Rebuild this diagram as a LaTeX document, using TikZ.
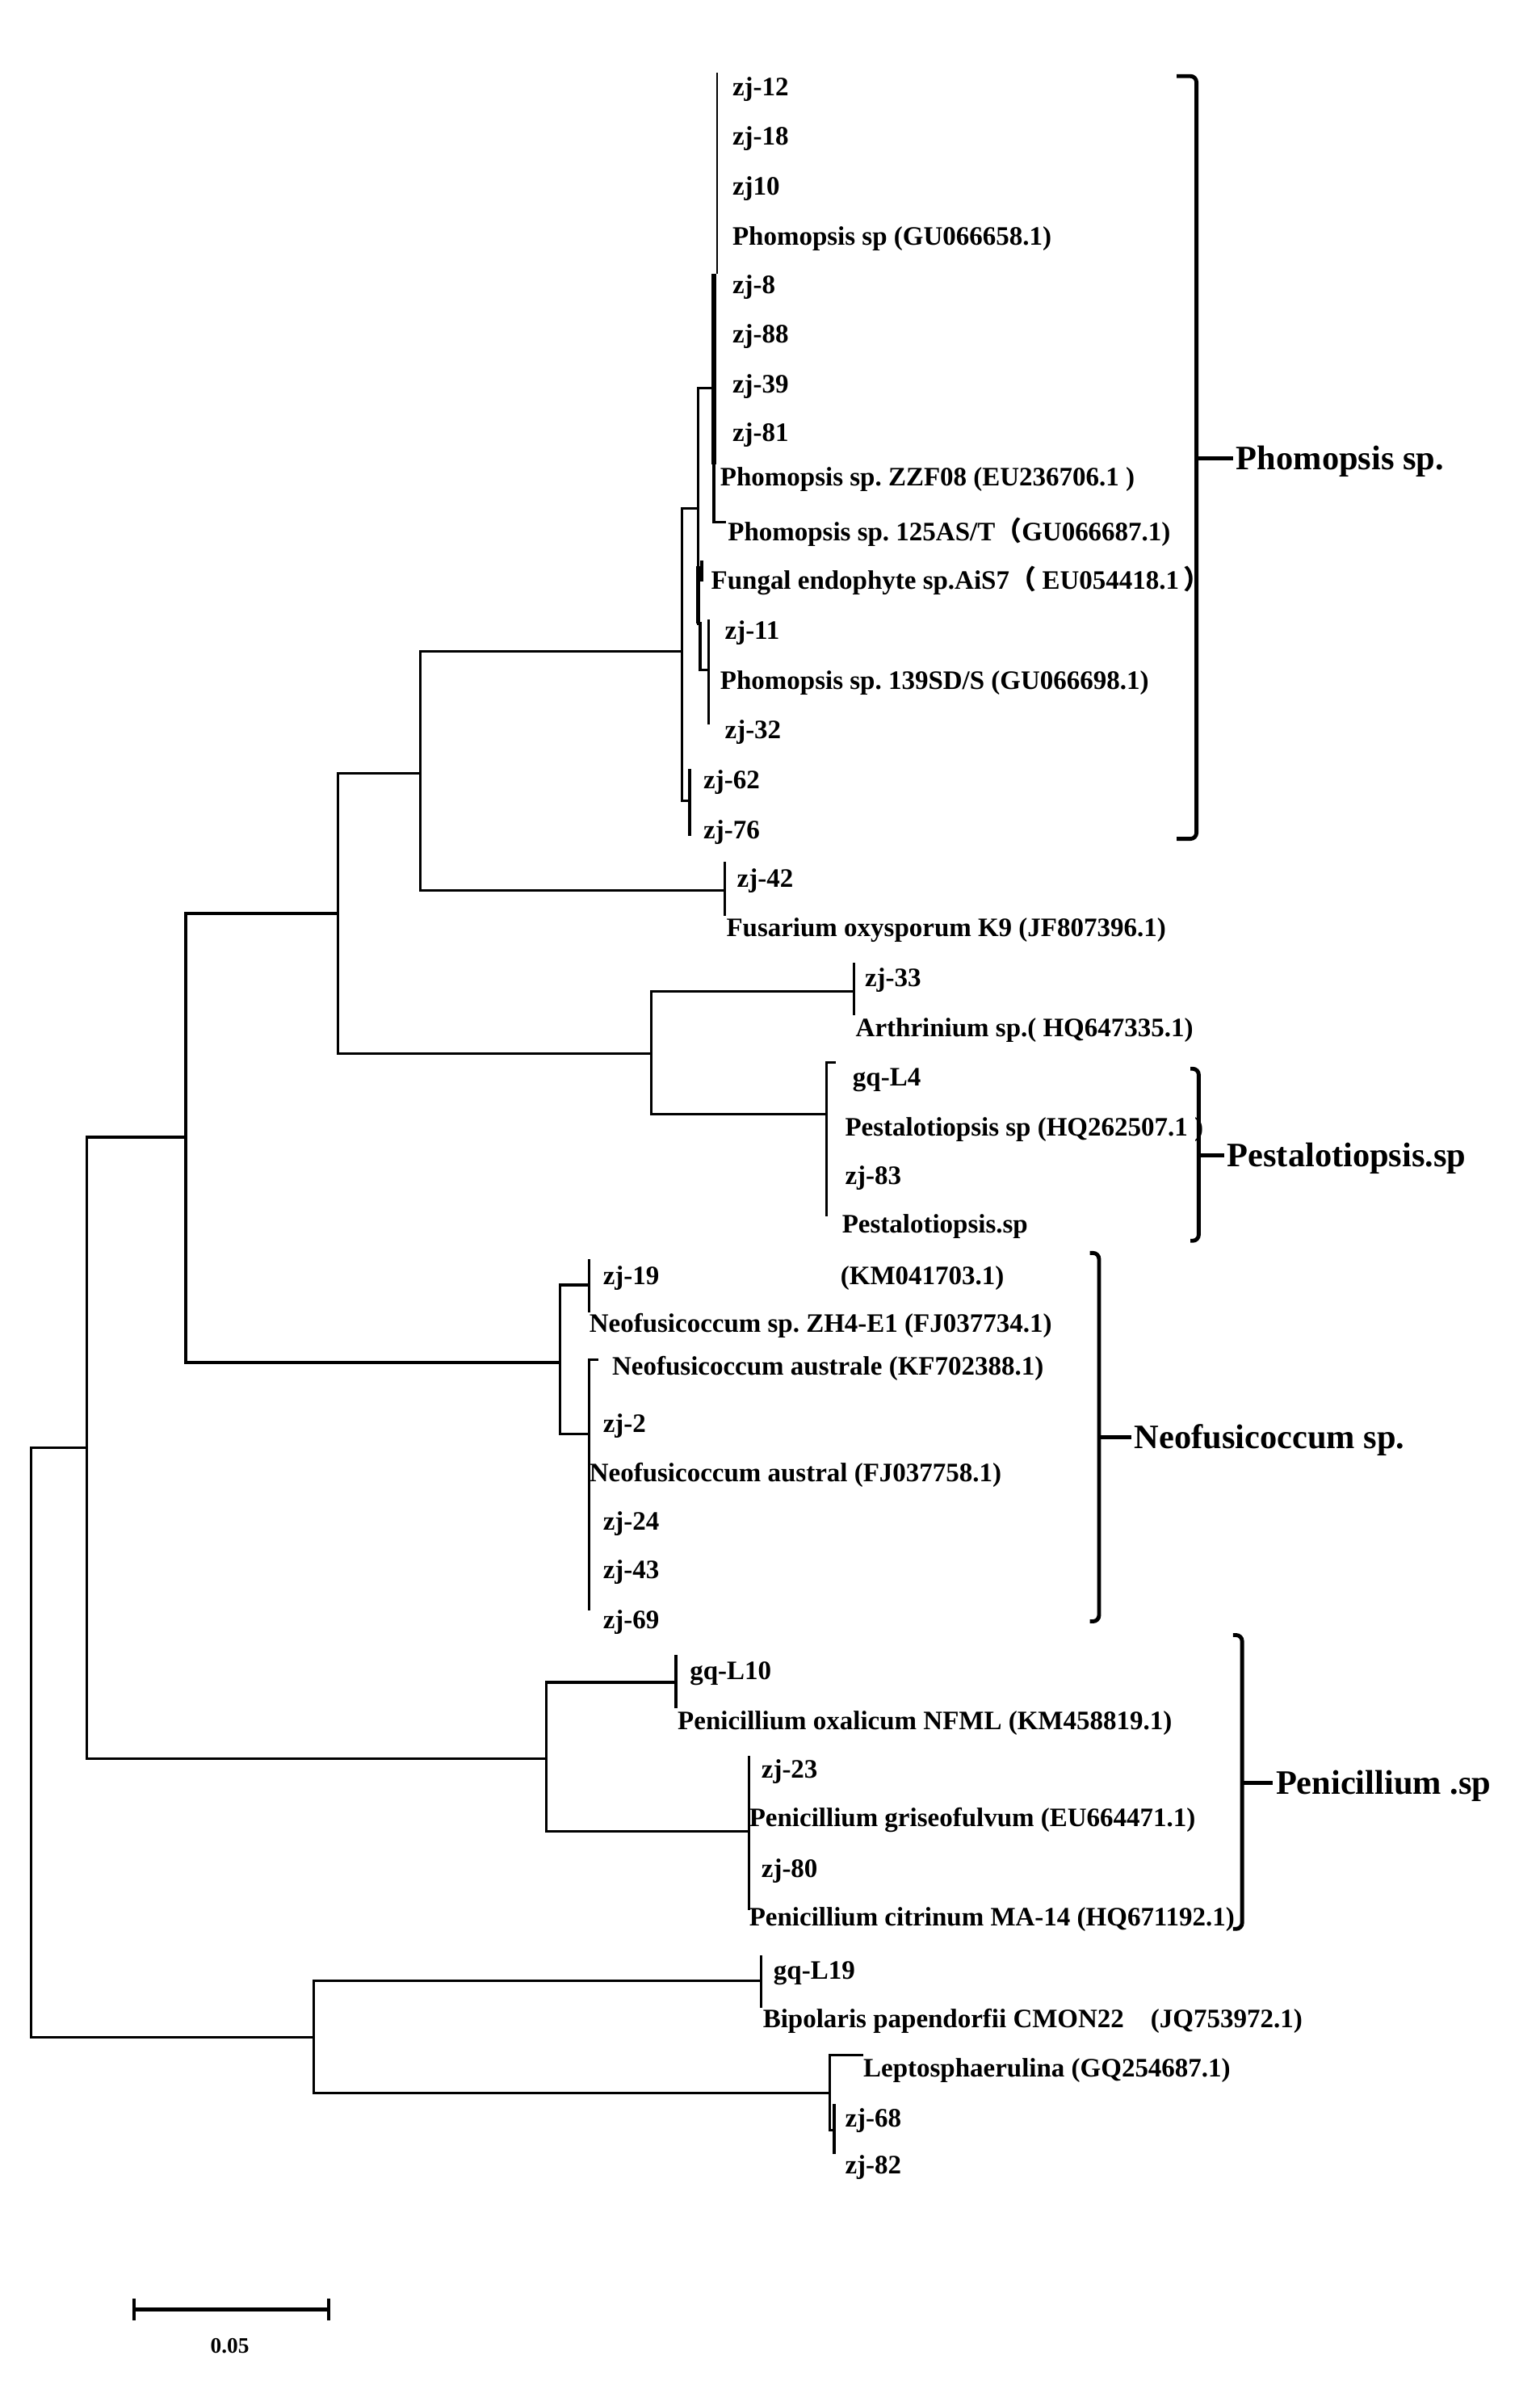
\documentclass[tikz,border=0pt]{standalone}
\usepackage{fontspec}
\setmainfont{Liberation Serif}
\newfontfamily\cjk{Noto Sans CJK SC}
\frenchspacing
\begin{document}
\begin{tikzpicture}[x=1pt,y=-1pt,
  tree/.style={line width=1.7pt, line cap=rect},
  thickbr/.style={line width=3.4pt},
  brk/.style={line width=2.6pt, rounded corners=4pt},
  leaf/.style={anchor=base west, inner sep=0pt, yshift=-6pt, font=\fontsize{17.5}{18}\selectfont\bfseries},
  grp/.style={anchor=base west, inner sep=0pt, yshift=-7.5pt, font=\fontsize{22.5}{24}\selectfont\bfseries},
  sbl/.style={inner sep=0pt, font=\fontsize{14.5}{15}\selectfont\bfseries}]
\useasboundingbox (0,0) rectangle (1011.2,1566.6);

% ---------- internal node connection points ----------
\coordinate (R)    at (20.5,1144.5);
\coordinate (N58)  at (57,951);
\coordinate (N206) at (206,1338);
\coordinate (N122) at (122,747);
\coordinate (NPen) at (359,1155);
\coordinate (N222) at (222,600);
\coordinate (NNeo) at (368,895);
\coordinate (N276) at (276,508);
\coordinate (N429) at (428,692);
\coordinate (NA)   at (448,428);
\coordinate (N42)  at (476,585);
\coordinate (NArt) at (561,651);
\coordinate (NPes) at (543,732);
\coordinate (NB)   at (458.5,334);
\coordinate (N62)  at (453,526);
\coordinate (NC)   at (469,255);
\coordinate (NE)   at (460,409.5);
\coordinate (NF)   at (465.5,440);
\coordinate (N19)  at (387,844);
\coordinate (NNb)  at (387,942);
\coordinate (NL10) at (444,1105);
\coordinate (N23)  at (492,1203);
\coordinate (NL19) at (500,1301);
\coordinate (NL)   at (545,1375);
\coordinate (NM)   at (548,1399);
\coordinate (NLep) at (566,1350);
\coordinate (NCb)  at (476,343);

% ---------- vertical lines ----------
\draw[tree] (R |- N58) -- (R |- N206);
\draw[tree] (N58 |- N122) -- (N58 |- NPen);
\draw[tree] (N122 |- N222) -- (N122 |- NNeo);
\draw[tree] (N222 |- N276) -- (N222 |- N429);
\draw[tree] (N276 |- NA) -- (N276 |- N42);
\draw[tree] (N429 |- NArt) -- (N429 |- NPes);
\draw[tree] (NA |- NB) -- (NA |- N62);
\draw[tree] (NB |- NC) -- (NB |- NE);
\draw[line width=2.6pt] (NB |- 0,372) -- (NB |- NE);
\draw[tree] (NE) -- (NE |- NF);
\draw[tree] (NNeo |- N19) -- (NNeo |- NNb);
\draw[tree] (NPen |- NL10) -- (NPen |- N23);
\draw[tree] (N206 |- NL19) -- (N206 |- NL);
\draw[tree] (NL |- NLep) -- (NL |- NM);
% leaf clusters
\draw[line width=1.4pt] (471,48) -- (471,180);
\draw[thickbr] (NC |- 0,180) -- (NC |- 0,305);
\draw[tree] (NC |- 0,305) -- (NC |- NCb);
\draw[tree] (461,369) -- (461,381);
\draw[tree] (NF |- 0,408) -- (NF |- 0,475);
\draw[tree] (N62 |- 0,506) -- (N62 |- 0,548);
\draw[tree] (N42 |- 0,567) -- (N42 |- 0,601);
\draw[tree] (NArt |- 0,633) -- (NArt |- 0,666);
\draw[tree] (NPes |- 0,698) -- (NPes |- 0,798);
\draw[tree] (N19 |- 0,828) -- (N19 |- 0,861);
\draw[tree] (NNb |- 0,893) -- (NNb |- 0,1057);
\draw[tree] (NL10 |- 0,1088) -- (NL10 |- 0,1121);
\draw[tree] (N23 |- 0,1154) -- (N23 |- 0,1254);
\draw[tree] (NL19 |- 0,1285) -- (NL19 |- 0,1318);
\draw[line width=2.6pt] (NM |- 0,1382) -- (NM);
\draw[tree] (NM) -- (NM |- 0,1414);

% ---------- horizontal branches ----------
\draw[tree] (R |- N58) -- (N58);
\draw[tree] (R |- N206) -- (N206);
\draw[tree] (N58 |- N122) -- (N122);
\draw[tree] (N58 |- NPen) -- (NPen);
\draw[tree] (N122 |- N222) -- (N222);
\draw[tree] (N122 |- NNeo) -- (NNeo);
\draw[tree] (N222 |- N276) -- (N276);
\draw[tree] (N222 |- N429) -- (N429);
\draw[tree] (N276 |- NA) -- (NA);
\draw[tree] (N276 |- N42) -- (N42);
\draw[tree] (N429 |- NArt) -- (NArt);
\draw[tree] (N429 |- NPes) -- (NPes);
\draw[tree] (NA |- NB) -- (NB);
\draw[tree] (NA |- N62) -- (N62);
\draw[tree] (NB |- NC) -- (NC);
\draw[tree] (NB |- NE) -- (NE);
\draw[tree] (NE |- NF) -- (NF);
\draw[tree] (NC |- NCb) -- (NCb);
\draw[tree] (NPes |- 0,698) -- (548,698);
\draw[tree] (NNeo |- N19) -- (N19);
\draw[tree] (NNeo |- NNb) -- (NNb);
\draw[tree] (NNb |- 0,893) -- (392,893);
\draw[tree] (NPen |- NL10) -- (NL10);
\draw[tree] (NPen |- N23) -- (N23);
\draw[tree] (N206 |- NL19) -- (NL19);
\draw[tree] (N206 |- NL) -- (NL);
\draw[tree] (NL |- NLep) -- (NLep);
\draw[tree] (NL |- NM) -- (NM);

% ---------- leaf labels ----------
\node[leaf] (t1)  at (481,57)  {zj-12};
\node[leaf] (t2)  at (481,89)  {zj-18};
\node[leaf] (t3)  at (481,122) {zj10};
\node[leaf] (t4)  at (481,155) {Phomopsis sp (GU066658.1)};
\node[leaf] (t5)  at (481,187) {zj-8};
\node[leaf] (t6)  at (481,219) {zj-88};
\node[leaf] (t7)  at (481,252) {zj-39};
\node[leaf] (t8)  at (481,284) {zj-81};
\node[leaf] (t9)  at (473,313) {Phomopsis sp. ZZF08 (EU236706.1 )};
\node[leaf] (t10) at (478,349) {Phomopsis sp. 125AS/T{\cjk （}GU066687.1)};
\node[leaf] (t11) at (467,381) {Fungal endophyte sp.AiS7{\cjk （}\hspace{4pt}EU054418.1\hspace{3pt}{\cjk ）}};
\node[leaf] (t12) at (476,414) {zj-11};
\node[leaf] (t13) at (473,447) {Phomopsis sp. 139SD/S (GU066698.1)};
\node[leaf] (t14) at (476,479) {zj-32};
\node[leaf] (t15) at (462,512) {zj-62};
\node[leaf] (t16) at (462,545) {zj-76};
\node[leaf] (t17) at (484,577) {zj-42};
\node[leaf] (t18) at (477,609) {Fusarium oxysporum K9 (JF807396.1)};
\node[leaf] (t19) at (568,642) {zj-33};
\node[leaf] (t20) at (562,675) {Arthrinium sp.( HQ647335.1)};
\node[leaf] (t21) at (560,707) {gq-L4};
\node[leaf] (t22) at (555,740) {Pestalotiopsis sp (HQ262507.1 )};
\node[leaf] (t23) at (555,772) {zj-83};
\node[leaf] (t24) at (553,804) {Pestalotiopsis.sp};
\node[leaf] (t25) at (396,838) {zj-19};
\node[leaf] (t25b) at (552,838) {(KM041703.1)};
\node[leaf] (t26) at (387,869) {Neofusicoccum sp. ZH4-E1 (FJ037734.1)};
\node[leaf] (t27) at (402,897) {Neofusicoccum australe (KF702388.1)};
\node[leaf] (t28) at (396,935) {zj-2};
\node[leaf] (t29) at (387,967) {Neofusicoccum austral (FJ037758.1)};
\node[leaf] (t30) at (396,999) {zj-24};
\node[leaf] (t31) at (396,1031) {zj-43};
\node[leaf] (t32) at (396,1064) {zj-69};
\node[leaf] (t33) at (453,1097) {gq-L10};
\node[leaf] (t34) at (445,1130) {Penicillium oxalicum NFML (KM458819.1)};
\node[leaf] (t35) at (500,1162) {zj-23};
\node[leaf] (t36) at (492,1194) {Penicillium griseofulvum (EU664471.1)};
\node[leaf] (t37) at (500,1227) {zj-80};
\node[leaf] (t38) at (492,1259) {Penicillium citrinum MA-14 (HQ671192.1)};
\node[leaf] (t39) at (508,1294) {gq-L19};
\node[leaf] (t40) at (501,1326) {Bipolaris papendorfii CMON22\hspace{1em}(JQ753972.1)};
\node[leaf] (t41) at (567,1358) {Leptosphaerulina (GQ254687.1)};
\node[leaf] (t42) at (555,1391) {zj-68};
\node[leaf] (t43) at (555,1422) {zj-82};

% ---------- group brackets ----------
\coordinate (bPho) at (786,301);
\draw[brk] (773,50) -- (bPho |- 0,50) -- (bPho |- 0,551) -- (773,551);
\draw[line width=2.4pt] (bPho) -- (810,301);
\node[grp] (gPho) at (812,301) {Phomopsis sp.};

\coordinate (bPes) at (787.5,759);
\draw[brk] (782,702) -- (bPes |- 0,702) -- (bPes |- 0,815) -- (782,815);
\draw[line width=2.4pt] (bPes) -- (804,759);
\node[grp] (gPes) at (806,759) {Pestalotiopsis.sp};

\coordinate (bNeo) at (722,944);
\draw[brk] (716,823) -- (bNeo |- 0,823) -- (bNeo |- 0,1065) -- (716,1065);
\draw[line width=2.4pt] (bNeo) -- (743,944);
\node[grp] (gNeo) at (745,944) {Neofusicoccum sp.};

\coordinate (bPen) at (816,1171);
\draw[brk] (810,1074) -- (bPen |- 0,1074) -- (bPen |- 0,1267) -- (810,1267);
\draw[line width=2.4pt] (bPen) -- (836,1171);
\node[grp] (gPen) at (838,1171) {Penicillium .sp};

% ---------- scale bar ----------
\coordinate (sb1) at (88,1517);
\coordinate (sb2) at (216,1517);
\draw[line width=2.2pt] (sb1) -- (sb2);
\draw[line width=2.2pt] ([yshift=7pt]sb1) -- ([yshift=-7pt]sb1);
\draw[line width=2.2pt] ([yshift=7pt]sb2) -- ([yshift=-7pt]sb2);
\node[sbl] (sbt) at (151,1541) {0.05};
\end{tikzpicture}
\end{document}
